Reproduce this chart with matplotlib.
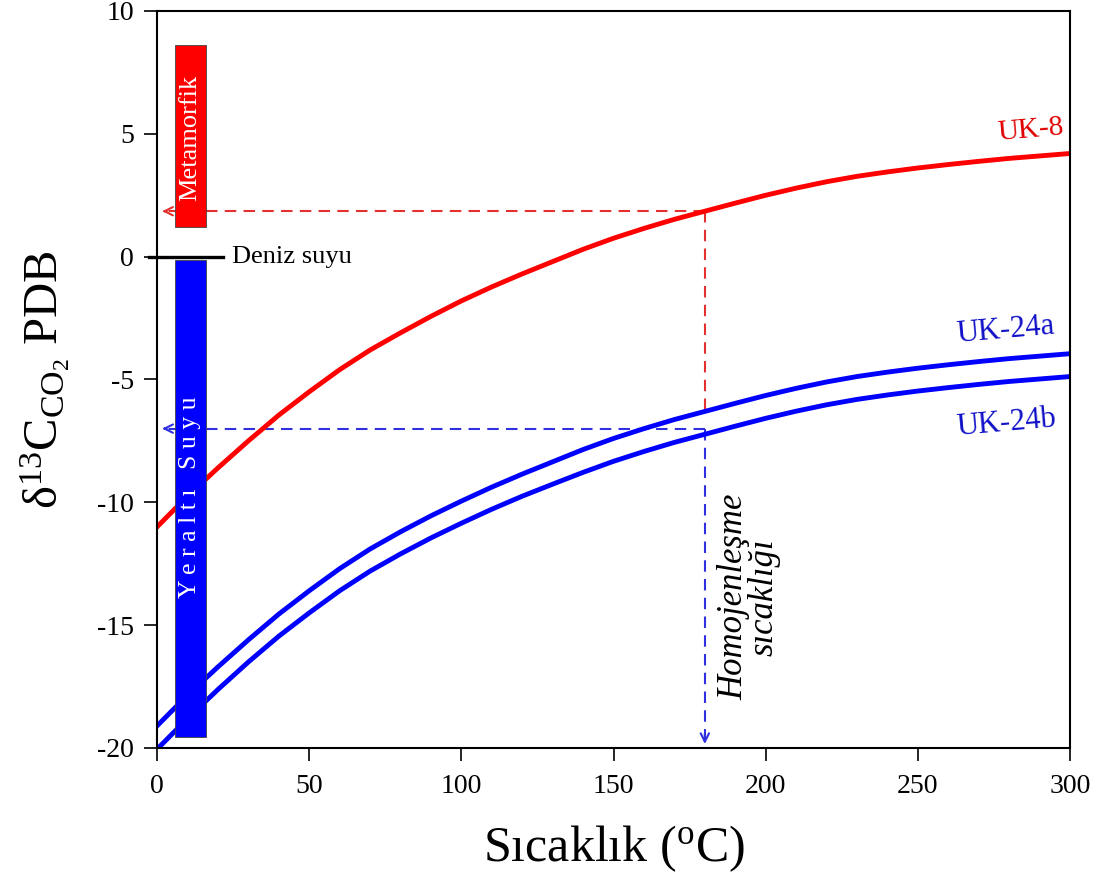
import numpy as np
import matplotlib
matplotlib.use("Agg")
import matplotlib.pyplot as plt
from matplotlib.patches import Rectangle

plt.rcParams['font.family'] = ['Liberation Serif', 'DejaVu Serif']
plt.rcParams['mathtext.fontset'] = 'custom'
plt.rcParams['mathtext.rm'] = 'Liberation Serif'
plt.rcParams['mathtext.it'] = 'Liberation Serif:italic'
plt.rcParams['axes.unicode_minus'] = False

# temperature (C) and d13C CO2
temp = [0, 10, 20, 30, 40, 50, 60, 70, 80, 90, 100, 110, 120, 130, 140, 150,
        160, 170, 180, 190, 200, 210, 220, 230, 240, 250, 260, 270, 280, 290, 300]
uk8 = [-11.0, -9.75, -8.6, -7.5, -6.45, -5.5, -4.6, -3.8, -3.1, -2.43, -1.8, -1.23, -0.7, -0.2, 0.3, 0.75,
       1.15, 1.52, 1.85, 2.18, 2.5, 2.79, 3.05, 3.27, 3.45, 3.61, 3.75, 3.88, 4.0, 4.1, 4.2]
uk24a = [-19.1, -17.85, -16.7, -15.6, -14.55, -13.6, -12.7, -11.9, -11.2, -10.55, -9.95, -9.38, -8.85, -8.35, -7.85, -7.4,
         -7.0, -6.63, -6.3, -5.97, -5.65, -5.36, -5.1, -4.88, -4.7, -4.54, -4.4, -4.27, -4.15, -4.05, -3.95]
uk24b = [-20.05, -18.8, -17.62, -16.5, -15.45, -14.5, -13.6, -12.8, -12.1, -11.45, -10.85, -10.28, -9.75, -9.26, -8.78, -8.33,
         -7.93, -7.56, -7.23, -6.9, -6.58, -6.29, -6.03, -5.81, -5.63, -5.47, -5.33, -5.2, -5.08, -4.98, -4.88]

t_hom = 180
d_red = 1.85
d_blue = -7.0

meta_range = (1.2, 8.6)
yeralti_range = (-19.55, -0.15)
bar_x = (6, 16)

fig = plt.figure(figsize=(11.06, 8.73), dpi=100)
ax = fig.add_axes([0.142, 0.1432, 0.8255, 0.8442])

ax.plot(temp, uk8, color='#ff0000', lw=3.5, zorder=2)
ax.plot(temp, uk24a, color='#0000ff', lw=3.5, zorder=2)
ax.plot(temp, uk24b, color='#0000ff', lw=3.5, zorder=2)

# boxes
ax.add_patch(Rectangle((bar_x[0], meta_range[0]), bar_x[1] - bar_x[0], meta_range[1] - meta_range[0],
                       facecolor='#ff0000', edgecolor='#444444', lw=0.6, zorder=3))
ax.add_patch(Rectangle((bar_x[0], yeralti_range[0]), bar_x[1] - bar_x[0], yeralti_range[1] - yeralti_range[0],
                       facecolor='#0000ff', edgecolor='#444444', lw=0.6, zorder=3))
ax.text(10.8, 4.85, 'Metamorfik', color='white', rotation=90, fontsize=19,
        ha='center', va='center', zorder=4)
ax.text(10.8, -9.8, 'Y e r a l t ı   S u y u', color='white', rotation=90, fontsize=18.5,
        ha='center', va='center', zorder=4)

# sea water
ax.plot([-2.5, 21.7], [0, 0], color='black', lw=2.4, clip_on=False, zorder=4)
ax.text(24.5, 0, 'Deniz suyu', fontsize=19, ha='left', va='center')

# dashed guides
red_d = '#e53030'
blue_d = '#3030e0'
dash = (5.5, 3.5)
ax.plot([t_hom, 2], [d_red, d_red], color=red_d, lw=1.5, dashes=dash, zorder=1)
ax.plot([t_hom, t_hom], [d_red, -6.4], color=red_d, lw=1.5, dashes=dash, zorder=1)
ax.plot([t_hom, 2], [d_blue, d_blue], color=blue_d, lw=1.5, dashes=dash, zorder=1)
ax.plot([t_hom, t_hom], [d_blue, -19.6], color=blue_d, lw=1.5, dashes=dash, zorder=1)
ax.annotate('', xy=(0.8, d_red), xytext=(4, d_red),
            arrowprops=dict(arrowstyle='->', color=red_d, lw=1.5, mutation_scale=15))
ax.annotate('', xy=(0.8, d_blue), xytext=(4, d_blue),
            arrowprops=dict(arrowstyle='->', color=blue_d, lw=1.5, mutation_scale=15))
ax.annotate('', xy=(t_hom, -19.95), xytext=(t_hom, -19.3),
            arrowprops=dict(arrowstyle='->', color=blue_d, lw=1.5, mutation_scale=15))

ax.text(194.5, -13.85, 'Homojenleşme\nsıcaklığı', rotation=90, fontsize=25, style='italic',
        ha='center', va='center', linespacing=0.92)

# curve labels
ax.text(287, 5.15, 'UK-8', color='#e00000', fontsize=21, ha='center', va='center', rotation=5)
ax.text(279, -2.98, 'UK-24a', color='#1010c8', fontsize=22, ha='center', va='center', rotation=5)
ax.text(279, -6.77, 'UK-24b', color='#1010c8', fontsize=22, ha='center', va='center', rotation=5)

ax.set_xlim(0, 300)
ax.set_ylim(-20, 10)
ax.set_xticks(np.arange(0, 301, 50))
ax.set_yticks(np.arange(-20, 11, 5))
ax.tick_params(direction='out', length=9.5, width=1.2, labelsize=20, top=False, right=False, pad=7)
ax.tick_params(axis='x', pad=9)
for s in ax.spines.values():
    s.set_linewidth(1.5)

ax.set_xlabel(r'Sıcaklık ($^{\mathrm{o}}$C)', fontsize=36, labelpad=18)
ax.set_ylabel(r'δ$^{13}$C$_{\mathrm{CO}_2}$ PDB', fontsize=35, labelpad=18)

fig.savefig('out.png', dpi=100)
